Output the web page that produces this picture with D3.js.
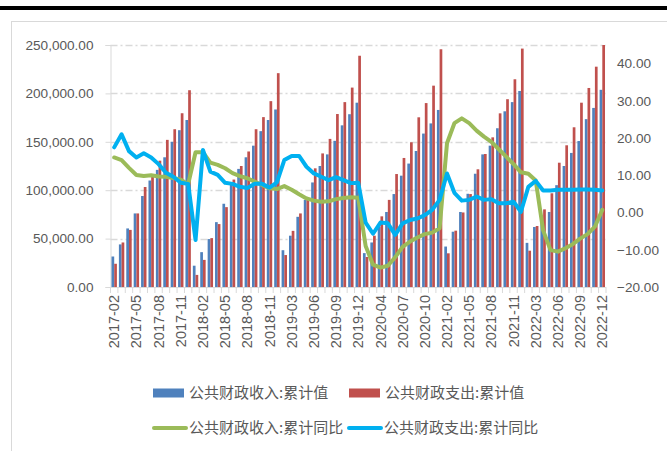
<!DOCTYPE html>
<html>
<head>
<meta charset="utf-8">
<script src="https://cdnjs.cloudflare.com/ajax/libs/d3/7.8.5/d3.min.js"></script>
<style>
	body { margin:0; background:#fff; }
	svg { display:block; }
	.tick text { font-family:"Liberation Sans", Arial, sans-serif; fill:#595959; }
</style>
</head>
<body>
<script>

// monthly cumulative data, 2017-02 .. 2022-12 (2018 includes January)
var months = [
	'2017-02','2017-03','2017-04','2017-05','2017-06','2017-07','2017-08','2017-09','2017-10','2017-11','2017-12',
	'2018-01','2018-02','2018-03','2018-04','2018-05','2018-06','2018-07','2018-08','2018-09','2018-10','2018-11','2018-12',
	'2019-02','2019-03','2019-04','2019-05','2019-06','2019-07','2019-08','2019-09','2019-10','2019-11','2019-12',
	'2020-02','2020-03','2020-04','2020-05','2020-06','2020-07','2020-08','2020-09','2020-10','2020-11','2020-12',
	'2021-02','2021-03','2021-04','2021-05','2021-06','2021-07','2021-08','2021-09','2021-10','2021-11','2021-12',
	'2022-02','2022-03','2022-04','2022-05','2022-06','2022-07','2022-08','2022-09','2022-10','2022-11','2022-12'
];

// 公共财政收入:累计值
var revenue = [
	31500, 44000, 60500, 76000, 94000, 110000, 121000, 134000, 150000, 162000, 172500,
	22000, 36000, 49500, 67000, 86000, 108000, 122000, 134000, 146000, 161000, 172500, 183400,
	38000, 53000, 72500, 90000, 108000, 125000, 137000, 151000, 167000, 178500, 190400,
	35000, 46000, 62000, 77500, 96000, 115000, 127500, 140500, 158500, 169000, 182900,
	41800, 57100, 77500, 96300, 117000, 137000, 146000, 164000, 181500, 191000, 202500,
	45600, 62000, 72100, 77500, 105200, 125000, 138500, 150800, 173400, 185000, 203700
];

// 公共财政支出:累计值
var spending = [
	24000, 46000, 59000, 76000, 103300, 116000, 130500, 152000, 163000, 179500, 203300,
	12500, 28000, 50500, 65000, 82500, 111000, 125000, 140000, 163000, 175500, 192000, 220900,
	33000, 58000, 76000, 90000, 122600, 138000, 153000, 178700, 191000, 206000, 238900,
	31000, 53000, 73000, 90000, 116700, 133300, 149500, 175300, 190000, 208000, 245600,
	34800, 58200, 77000, 96000, 121600, 137400, 154600, 179400, 194000, 214600, 246300,
	37500, 63000, 80200, 96800, 128400, 146400, 165000, 190400, 205600, 227600, 260600
];

// 公共财政收入:累计同比
var revenueYoy = [
	14.8, 14.1, 12.0, 10.1, 9.8, 10.0, 9.7, 9.6, 9.3, 8.8, 7.6,
	16.2, 16.2, 13.4, 12.8, 11.9, 10.6, 9.8, 9.2, 8.3, 7.4, 6.5, 6.3,
	7.1, 6.1, 4.9, 3.8, 3.2, 2.9, 3.0, 3.6, 3.9, 4.1, 4.0,
	-9.0, -14.0, -14.8, -14.3, -12.0, -9.2, -7.8, -6.7, -5.8, -5.4, -4.2,
	18.6, 24.0, 25.3, 24.0, 22.0, 20.4, 19.0, 17.0, 15.0, 13.0, 10.8,
	10.4, 8.6, -4.8, -10.1, -10.5, -9.6, -8.5, -7.0, -5.8, -3.8, 0.7
];

// 公共财政支出:累计同比
var spendingYoy = [
	17.5, 21.0, 16.5, 14.8, 15.9, 14.8, 13.0, 10.7, 9.6, 8.0, 7.7,
	-7.4, 16.8, 11.0, 10.1, 8.0, 7.7, 6.9, 6.6, 7.7, 7.7, 6.7, 8.1,
	14.1, 15.2, 15.2, 12.3, 10.5, 9.6, 8.7, 9.5, 8.7, 7.9, 8.0,
	-2.7, -5.7, -2.7, -2.9, -6.0, -2.9, -2.0, -1.6, -0.7, 0.7, 3.4,
	10.5, 5.3, 3.2, 3.4, 4.3, 3.4, 3.6, 2.5, 2.5, 2.9, 0.2,
	6.9, 8.5, 5.9, 5.9, 6.1, 6.1, 6.1, 6.2, 6.2, 6.1, 5.9
];

var leftTicks = [0, 50000, 100000, 150000, 200000, 250000];
var rightTicks = [-20, -10, 0, 10, 20, 30, 40];

var seriesNames = ['公共财政收入:累计值', '公共财政支出:累计值', '公共财政收入:累计同比', '公共财政支出:累计同比'];
var seriesColors = ['#4f81bd', '#c0504d', '#9bbb59', '#00b0f0'];

var canvasWidth = 667,
	canvasHeight = 451;

var plot = { left: 110.5, right: 606, top: 45, bottom: 287 };

var svg = d3.select('body').append('svg')
	.attr('width', canvasWidth).attr('height', canvasHeight);

// top rule and chart frame
svg.append('rect').attr('x', 0).attr('y', 6).attr('width', canvasWidth).attr('height', 4).attr('fill', '#000');
svg.append('rect').attr('x', 11.5).attr('y', 21.5).attr('width', 660).attr('height', 440)
	.attr('fill', 'none').attr('stroke', '#d9d9d9').attr('stroke-width', 1);

var x = d3.scaleBand().domain(months).range([plot.left, plot.right]).padding(0);
var yL = d3.scaleLinear().domain([0, 250000]).range([plot.bottom, plot.top]);
var yR = d3.scaleLinear().domain([-20, 45]).range([plot.bottom, plot.top]);

// gridlines (dash-dot)
svg.append('g').selectAll('line').data(leftTicks.slice(1)).enter().append('line')
	.attr('x1', plot.left).attr('x2', plot.right)
	.attr('y1', function (d) { return Math.round(yL(d)) + 0.5; })
	.attr('y2', function (d) { return Math.round(yL(d)) + 0.5; })
	.attr('stroke', '#d9d9d9').attr('stroke-width', 1.5)
	.attr('stroke-dasharray', '7,3,2,3');

// left axis
var leftAxis = svg.append('g').attr('transform', 'translate(' + plot.left + ',0)')
	.call(d3.axisLeft(yL).tickValues(leftTicks).tickSize(5).tickPadding(12).tickFormat(d3.format(',.2f')));
leftAxis.selectAll('path,line').attr('stroke', '#d9d9d9');
leftAxis.selectAll('text').style('font-size', '13.6px');

// right axis (labels only)
var rightAxis = svg.append('g').attr('transform', 'translate(' + plot.right + ',0)')
	.call(d3.axisRight(yR).tickValues(rightTicks).tickSize(0).tickPadding(11).tickFormat(d3.format('.2f')));
rightAxis.select('.domain').remove();
rightAxis.selectAll('text').style('font-size', '13.6px');

// bars
var barW = 2.7;
var clip = svg.append('clipPath').attr('id', 'plotclip').append('rect')
	.attr('x', plot.left).attr('y', plot.top).attr('width', plot.right - plot.left).attr('height', plot.bottom - plot.top);

var bars = svg.append('g').attr('clip-path', 'url(#plotclip)');
bars.selectAll('rect.rev').data(revenue).enter().append('rect')
	.attr('class', 'rev')
	.attr('x', function (d, i) { return x(months[i]) + x.bandwidth() / 2 - barW; })
	.attr('y', function (d) { return yL(d); })
	.attr('width', barW)
	.attr('height', function (d) { return yL(0) - yL(d); })
	.attr('fill', seriesColors[0]);
bars.selectAll('rect.exp').data(spending).enter().append('rect')
	.attr('class', 'exp')
	.attr('x', function (d, i) { return x(months[i]) + x.bandwidth() / 2; })
	.attr('y', function (d) { return yL(d); })
	.attr('width', barW)
	.attr('height', function (d) { return yL(0) - yL(d); })
	.attr('fill', seriesColors[1]);

// bottom axis line + ticks at every category boundary
var bottom = svg.append('g').attr('transform', 'translate(0,' + plot.bottom + ')');
bottom.append('line').attr('x1', plot.left).attr('x2', plot.right).attr('y1', 0.5).attr('y2', 0.5)
	.attr('stroke', '#d9d9d9');
bottom.selectAll('line.bt').data(months.concat(['end'])).enter().append('line')
	.attr('class', 'bt')
	.attr('x1', function (d) { return d == 'end' ? plot.right : x(d); })
	.attr('x2', function (d) { return d == 'end' ? plot.right : x(d); })
	.attr('y1', 0).attr('y2', 6)
	.attr('stroke', '#d9d9d9');

var labelMonths = months.filter(function (d, i) { return i % 3 == 0; });
var xAxis = svg.append('g').attr('transform', 'translate(0,' + plot.bottom + ')')
	.call(d3.axisBottom(x).tickValues(labelMonths).tickSize(0));
xAxis.select('.domain').remove();
xAxis.selectAll('text')
	.style('font-size', '14.5px')
	.attr('text-anchor', 'end')
	.attr('dy', '0.35em')
	.attr('transform', 'translate(0,8) rotate(-90)')
	.attr('x', 0).attr('y', 0);

// lines
function drawLine(values, yScale, color) {
	var line = d3.line()
		.x(function (d, i) { return x(months[i]) + x.bandwidth() / 2; })
		.y(function (d) { return yScale(d); });
	svg.append('path').datum(values)
		.attr('d', line)
		.attr('fill', 'none')
		.attr('stroke', color)
		.attr('stroke-width', 4)
		.attr('stroke-linejoin', 'round')
		.attr('stroke-linecap', 'round');
}
drawLine(revenueYoy, yR, seriesColors[2]);
drawLine(spendingYoy, yR, seriesColors[3]);

// legend
var legendItems = [
	{ name: seriesNames[0], color: seriesColors[0], type: 'bar', x: 153, y: 393 },
	{ name: seriesNames[1], color: seriesColors[1], type: 'bar', x: 349, y: 393 },
	{ name: seriesNames[2], color: seriesColors[2], type: 'line', x: 153, y: 428 },
	{ name: seriesNames[3], color: seriesColors[3], type: 'line', x: 348, y: 428 }
];
var legend = svg.append('g').selectAll('g').data(legendItems).enter().append('g')
	.attr('transform', function (d) { return 'translate(' + d.x + ',' + d.y + ')'; });
legend.each(function (d) {
	var g = d3.select(this);
	if (d.type == 'bar') {
		g.append('rect').attr('x', 0).attr('y', -4.5).attr('width', 31).attr('height', 9).attr('fill', d.color);
	} else {
		g.append('line').attr('x1', 1).attr('x2', 33).attr('y1', 0).attr('y2', 0)
			.attr('stroke', d.color).attr('stroke-width', 4).attr('stroke-linecap', 'round');
	}
	g.append('text').attr('x', 36).attr('y', 0).attr('dy', '0.36em')
		.attr('font-family', '"Noto Sans CJK SC", sans-serif')
		.attr('font-size', '15px').attr('fill', '#595959')
		.text(d.name);
});

</script>
</body>
</html>
